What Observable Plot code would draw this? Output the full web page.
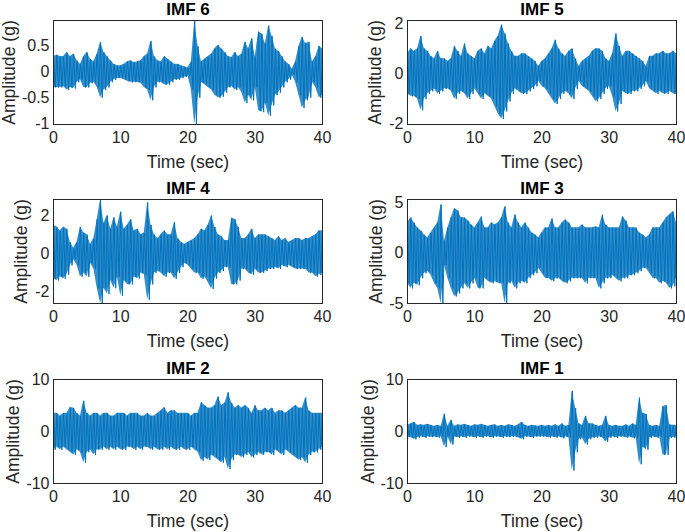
<!DOCTYPE html>
<html><head><meta charset="utf-8">
<script src="https://cdn.jsdelivr.net/npm/d3@7"></script>
<script src="https://cdn.jsdelivr.net/npm/@observablehq/plot@0.6"></script>
<style>
html,body{margin:0;padding:0;background:#fff;overflow:hidden;}
#chart{position:relative;width:685px;height:532px;overflow:hidden;background:#fff;}
</style></head><body><div id="chart"></div>
<script>
// sampling grid (seconds)
const time = d3.range(0, 40.001, 0.5);
const xTicks = [0, 10, 20, 30, 40];

// upper / lower envelope of each IMF, every 0.5 s
const imf6Hi = [0.30,0.33,0.30,0.30,0.38,0.30,0.35,0.22,0.15,0.30,
  0.38,0.25,0.20,0.35,0.58,0.38,0.30,0.22,0.15,0.12,
  0.12,0.15,0.20,0.22,0.18,0.20,0.22,0.30,0.35,0.60,
  0.30,0.22,0.20,0.30,0.25,0.20,0.15,0.15,0.12,0.10,
  0.08,0.20,0.99,0.50,0.20,0.25,0.30,0.35,0.45,0.52,
  0.45,0.38,0.30,0.28,0.38,0.30,0.35,0.58,0.45,0.65,
  0.30,0.78,0.74,0.55,0.90,0.70,0.45,0.40,0.30,0.20,
  0.15,0.06,0.20,0.50,0.68,0.55,0.58,0.20,0.30,0.50,0.45];
const imf6Lo = [-0.30,-0.30,-0.30,-0.28,-0.35,-0.30,-0.32,-0.20,-0.15,-0.30,
  -0.30,-0.22,-0.20,-0.30,-0.50,-0.35,-0.30,-0.20,-0.15,-0.12,
  -0.12,-0.15,-0.18,-0.20,-0.20,-0.20,-0.22,-0.30,-0.35,-0.55,
  -0.30,-0.20,-0.20,-0.25,-0.25,-0.20,-0.15,-0.15,-0.12,-0.10,
  -0.08,-0.35,-1.02,-0.50,-0.20,-0.25,-0.30,-0.35,-0.45,-0.50,
  -0.48,-0.40,-0.30,-0.28,-0.35,-0.30,-0.40,-0.60,-0.45,-0.55,
  -0.30,-0.75,-0.78,-0.60,-0.85,-0.65,-0.45,-0.40,-0.30,-0.20,
  -0.15,-0.06,-0.20,-0.45,-0.70,-0.55,-0.50,-0.20,-0.30,-0.50,-0.45];

const imf5Hi = [0.8,1.0,0.9,1.0,1.5,1.0,0.9,0.7,0.6,0.9,
  0.6,0.6,0.5,0.6,1.1,0.9,0.7,1.2,0.8,0.7,
  0.6,0.9,1.0,0.8,1.1,1.0,1.3,1.5,1.95,1.6,
  1.2,0.9,0.7,0.7,0.8,0.8,0.7,0.6,0.5,0.3,
  0.5,0.6,0.8,1.0,1.35,1.0,0.8,0.7,0.9,1.0,
  0.6,0.3,0.5,0.6,0.7,0.9,1.0,1.0,0.9,0.6,
  0.5,0.8,1.6,1.1,0.7,0.9,0.9,0.8,0.7,0.6,
  0.5,0.3,0.7,0.7,0.8,0.8,0.9,0.8,0.8,0.9,0.8];
const imf5Lo = [-0.8,-0.9,-0.9,-1.0,-1.45,-1.0,-0.8,-0.7,-0.6,-0.8,
  -0.7,-0.6,-0.6,-0.7,-1.0,-0.8,-0.7,-0.8,-1.0,-0.8,
  -0.6,-0.8,-1.0,-0.8,-0.9,-1.0,-1.3,-1.6,-1.8,-1.5,
  -1.1,-0.8,-0.6,-0.7,-0.8,-0.8,-0.7,-0.6,-0.5,-0.3,
  -0.5,-0.6,-0.8,-1.0,-1.2,-1.0,-0.8,-0.7,-0.8,-1.0,
  -0.6,-0.3,-0.5,-0.6,-0.7,-0.9,-1.1,-1.0,-0.8,-0.6,
  -0.5,-0.9,-1.5,-1.2,-0.7,-0.8,-0.8,-0.7,-0.7,-0.6,
  -0.5,-0.3,-0.6,-0.7,-0.8,-0.7,-0.8,-0.8,-0.7,-0.8,-0.8];

const imf4Hi = [1.5,1.4,1.2,1.4,1.3,0.6,0.3,0.6,1.4,1.1,
  1.0,0.5,0.8,1.8,2.84,1.6,2.0,1.3,1.9,1.4,
  2.2,1.3,1.5,1.8,1.2,1.3,1.0,1.1,2.68,1.5,
  1.0,0.8,1.0,1.2,1.0,1.0,1.66,0.8,0.6,0.5,
  0.6,0.7,0.8,1.0,1.3,1.2,1.5,2.0,1.4,1.0,
  0.9,0.7,0.7,1.87,1.8,1.4,0.8,0.8,1.0,1.3,
  0.8,1.0,1.0,1.0,0.9,0.8,0.7,0.9,0.7,0.8,
  0.6,0.7,0.8,0.8,0.7,0.8,0.8,0.9,1.0,1.2,1.2];
const imf4Lo = [-1.3,-1.4,-1.2,-1.3,-1.1,-0.6,-0.3,-0.6,-1.2,-1.0,
  -1.2,-0.5,-0.8,-1.8,-2.6,-1.8,-2.1,-1.4,-1.8,-1.2,
  -2.2,-1.4,-1.6,-1.6,-1.2,-1.3,-1.0,-1.1,-2.4,-1.6,
  -1.0,-0.9,-1.0,-1.2,-1.0,-1.0,-1.3,-1.0,-0.7,-0.5,
  -0.6,-0.8,-1.0,-1.0,-1.3,-1.2,-1.5,-1.84,-1.3,-1.0,
  -0.9,-0.7,-0.7,-1.6,-1.6,-1.4,-0.8,-0.8,-1.0,-1.1,
  -0.8,-1.0,-1.0,-0.9,-0.8,-0.8,-0.7,-0.8,-0.6,-0.7,
  -0.6,-0.7,-0.8,-0.8,-0.8,-0.8,-1.0,-1.0,-1.2,-1.1,-1.0];

const imf3Hi = [3.0,3.5,3.0,2.5,2.2,1.8,1.5,2.0,2.5,3.0,
  4.8,1.2,2.5,3.5,4.4,4.2,3.5,3.5,3.2,2.8,
  2.5,3.0,3.6,2.5,2.5,3.0,2.8,3.0,3.5,4.6,
  3.0,2.5,3.8,3.0,2.5,3.0,2.5,2.0,1.8,1.5,
  2.0,2.5,2.5,3.4,2.5,2.5,3.0,3.3,3.0,2.5,
  2.5,2.5,2.8,2.5,2.5,2.5,2.6,2.5,3.8,2.8,
  2.5,2.5,2.5,2.5,3.6,3.2,2.5,2.5,2.5,2.0,
  1.8,1.5,1.8,2.5,2.5,2.5,3.0,3.5,3.8,4.1,3.0];
const imf3Lo = [-3.0,-3.5,-3.0,-3.2,-2.5,-2.0,-1.8,-2.2,-3.0,-3.5,
  -5.0,-1.2,-2.5,-3.5,-4.3,-4.0,-3.5,-3.0,-3.5,-3.0,
  -2.5,-3.5,-3.5,-2.5,-2.8,-3.0,-2.8,-3.0,-3.0,-5.0,
  -3.0,-2.8,-3.5,-3.0,-2.8,-3.0,-2.5,-2.2,-2.0,-1.5,
  -2.0,-2.5,-2.5,-2.8,-2.5,-2.5,-2.8,-3.0,-2.8,-2.5,
  -2.5,-2.5,-2.5,-3.0,-2.5,-2.5,-2.5,-3.5,-3.0,-2.5,
  -2.5,-2.2,-2.5,-2.8,-2.5,-2.5,-2.2,-2.2,-2.0,-1.8,
  -1.5,-1.5,-2.0,-2.5,-2.5,-3.0,-2.8,-3.0,-3.5,-3.3,-2.5];

const imf2Hi = [3.5,3.5,3.0,3.5,3.5,4.6,4.5,3.5,3.0,5.9,
  3.5,3.0,3.5,3.5,3.0,3.5,3.5,3.0,3.0,3.5,
  3.5,3.5,3.0,3.5,3.5,3.5,3.0,3.0,3.5,3.0,
  3.0,3.5,4.0,4.6,3.5,4.0,4.0,3.5,3.5,3.5,
  3.5,3.0,3.5,3.5,5.6,5.0,4.5,4.5,5.0,6.7,
  5.0,5.5,7.5,5.5,4.5,5.0,4.5,5.0,4.5,3.5,
  5.0,4.0,4.0,4.5,4.0,4.5,3.5,4.0,4.0,3.5,
  4.0,4.5,5.0,4.5,4.5,6.5,4.0,3.5,3.5,3.5,3.5];
const imf2Lo = [-3.5,-3.0,-3.5,-3.0,-3.5,-4.0,-4.5,-3.5,-4.0,-6.0,
  -4.0,-3.5,-4.5,-3.5,-3.5,-3.0,-3.5,-3.0,-3.5,-3.0,
  -3.5,-3.5,-3.0,-3.0,-3.5,-3.0,-3.5,-3.0,-3.0,-3.5,
  -3.0,-3.5,-3.5,-3.0,-3.5,-3.0,-3.5,-3.5,-3.0,-3.5,
  -3.5,-3.0,-3.5,-4.0,-5.6,-5.0,-5.5,-4.5,-5.0,-5.5,
  -6.0,-5.0,-7.2,-5.5,-4.5,-4.5,-5.0,-4.5,-4.0,-5.0,
  -4.5,-4.0,-4.5,-4.0,-4.0,-4.5,-3.5,-4.0,-4.5,-3.5,
  -4.0,-4.5,-5.0,-5.5,-5.0,-6.0,-4.5,-4.0,-4.0,-3.5,-3.0];

const imf1Hi = [1.2,1.5,1.8,1.2,1.3,1.2,1.4,1.2,1.0,1.2,
  1.0,3.4,1.0,2.2,1.0,1.3,1.2,1.4,1.2,1.0,
  1.3,1.2,1.4,1.2,1.0,1.2,1.3,1.0,1.2,1.0,
  1.3,1.2,1.0,1.3,1.8,1.2,1.0,1.2,1.1,1.0,
  1.2,1.0,1.2,1.0,1.3,1.0,1.5,1.0,1.2,7.8,
  4.5,1.5,1.2,3.0,1.5,1.5,1.2,1.0,1.2,3.0,
  1.2,1.0,1.2,1.0,1.0,1.3,1.0,1.5,1.2,6.5,
  3.5,3.3,1.2,1.0,1.2,1.0,4.8,5.0,1.3,1.2,1.2];
const imf1Lo = [-1.0,-1.2,-1.5,-1.2,-1.0,-1.2,-1.0,-1.1,-1.0,-1.2,
  -1.0,-3.0,-1.0,-2.5,-1.0,-1.2,-1.0,-1.2,-1.0,-1.0,
  -1.2,-1.0,-1.2,-1.0,-1.0,-1.2,-1.0,-1.0,-1.2,-1.0,
  -1.1,-1.0,-1.0,-1.2,-1.5,-1.0,-1.0,-1.2,-1.0,-1.0,
  -1.0,-1.0,-1.2,-1.0,-1.2,-1.0,-1.3,-1.0,-1.2,-7.5,
  -4.0,-1.5,-1.2,-2.5,-1.5,-1.2,-1.2,-1.0,-1.2,-2.0,
  -1.2,-1.0,-1.2,-1.0,-1.0,-1.2,-1.0,-1.3,-1.2,-6.3,
  -3.0,-3.5,-1.2,-1.0,-1.2,-1.0,-4.5,-4.5,-1.2,-1.2,-1.0];

const titles = ["IMF 6", "IMF 5", "IMF 4", "IMF 3", "IMF 2", "IMF 1"];
const yDomains = [[-1.02, 1.0], [-2.02, 2.12], [-2.6, 2.84], [-5.0, 5.3], [-10, 10], [-10, 10]];
const yTicks = [[-1, -0.5, 0, 0.5], [-2, 0, 2], [-2, 0, 2], [-5, 0, 5], [-10, 0, 10], [-10, 0, 10]];
const his = [imf6Hi, imf5Hi, imf4Hi, imf3Hi, imf2Hi, imf1Hi];
const los = [imf6Lo, imf5Lo, imf4Lo, imf3Lo, imf2Lo, imf1Lo];

// layout
const colLeft = [0, 345], boxLeft = [53, 407], boxRight = [322, 676];
const rowTop = [20, 199, 379], boxH = 104, svgW = 340;
const ylabelX = [8.5, 374.5, 20.5, 375.5, 12.5, 367.5];
const BLUE = "#0072BD", AX = "#262626";
const FONT = "'Liberation Sans', Arial, Helvetica, sans-serif";

const chart = document.getElementById("chart");
titles.forEach((title, k) => {
  const col = k % 2, row = Math.floor(k / 2);
  const rows = time.map((t, i) => ({t, hi: his[k][i], lo: los[k][i]}));
  // the trace swings from each upper peak to the following lower peak
  const trace = rows.flatMap(r => [{t: r.t, v: r.hi}, {t: r.t + 0.25, v: r.lo}]);
  const mL = boxLeft[col] - colLeft[col];
  const mR = colLeft[col] + svgW - boxRight[col];
  const svg = Plot.plot({
    width: svgW, height: 20 + boxH + 50,
    marginTop: 20, marginBottom: 50, marginLeft: mL, marginRight: mR,
    style: {fontFamily: FONT, fontSize: "16px", color: AX, background: "transparent", overflow: "visible"},
    x: {domain: [0, 40]},
    y: {domain: yDomains[k]},
    marks: [
      Plot.areaY(rows, {x: "t", y1: "lo", y2: "hi", fill: BLUE, fillOpacity: 0.8, clip: true}),
      Plot.lineY(trace, {x: "t", y: "v", stroke: BLUE, strokeWidth: 1, clip: true}),
      Plot.frame({stroke: AX, strokeWidth: 1}),
      Plot.axisX({ticks: xTicks, tickSize: 0, tickPadding: 7, label: null, fontSize: 16, tickFormat: d => String(d)}),
      Plot.axisY({ticks: yTicks[k], tickSize: 0, tickPadding: 4, label: null, fontSize: 16, tickFormat: d => String(d)}),
      Plot.text([title], {text: d => d, frameAnchor: "top", lineAnchor: "middle", dy: -10.5, fontWeight: "bold", fontSize: 17, fill: "#000"}),
      Plot.text(["Time (sec)"], {text: d => d, frameAnchor: "bottom", lineAnchor: "middle", dy: 38, fontSize: 17.6, fill: AX}),
      Plot.text(["Amplitude (g)"], {text: d => d, frameAnchor: "left", textAnchor: "middle", lineAnchor: "middle", rotate: -90, dx: ylabelX[k] - boxLeft[col], fontSize: 17.6, fill: AX})
    ]
  });
  svg.style.position = "absolute";
  svg.style.left = colLeft[col] + "px";
  svg.style.top = (rowTop[row] - 20) + "px";
  chart.appendChild(svg);
});
</script></body></html>
